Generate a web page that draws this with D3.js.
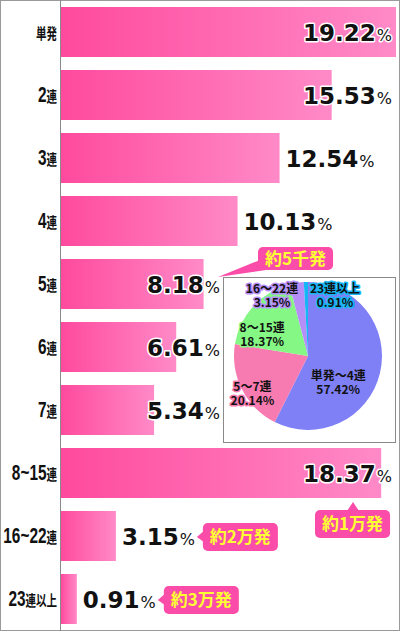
<!DOCTYPE html>
<html>
<head>
<meta charset="utf-8">
<script src="https://cdn.jsdelivr.net/npm/d3@7"></script>
<style>
  body { margin: 0; background: #fff; }
  svg { display: block; }
</style>
</head>
<body>
<div id="chart"></div>
<script>
// bar data
var categories = ["単発", "2連", "3連", "4連", "5連", "6連", "7連", "8~15連", "16~22連", "23連以上"];
var values = [19.22, 15.53, 12.54, 10.13, 8.18, 6.61, 5.34, 18.37, 3.15, 0.91];

// pie data
var pieLabels = ["単発～4連", "5～7連", "8～15連", "16～22連", "23連以上"];
var pieValues = [57.42, 20.14, 18.37, 3.15, 0.91];
var pieColors = ["#7f7ff6", "#f77bb0", "#84f784", "#b68ef8", "#14b6f6"];

// callouts
var calloutRows = ["5連", "8~15連", "16~22連", "23連以上"];
var calloutTexts = ["約5千発", "約1万発", "約2万発", "約3万発"];

var width = 400, height = 631;
var left = 61;
var CJK = "'Noto Sans CJK JP', sans-serif";
var NUM = "'DejaVu Sans', sans-serif";

var svg = d3.select("#chart").append("svg").attr("width", width).attr("height", height);

var defs = svg.append("defs");
var grad = defs.append("linearGradient").attr("id", "barGrad")
	.attr("x1", 0).attr("x2", 1).attr("y1", 0).attr("y2", 0);
grad.append("stop").attr("offset", 0).attr("stop-color", "#ff4a9e");
grad.append("stop").attr("offset", 1).attr("stop-color", "#ff8ac8");

var x = d3.scaleLinear().domain([0, 19.22]).range([left, 396]);
var y = d3.scaleBand().domain(categories).range([7, 624]).paddingInner(13 / 63).paddingOuter(0);

// outer frame + axis line
svg.append("rect").attr("x", 0.5).attr("y", 0.5).attr("width", width - 1).attr("height", height - 1)
	.attr("fill", "none").attr("stroke", "#9a9a9a");
svg.append("line").attr("x1", left - 0.5).attr("x2", left - 0.5).attr("y1", 0).attr("y2", height)
	.attr("stroke", "#8a8a8a");

// bars
svg.append("g").selectAll("rect")
	.data(values)
	.enter().append("rect")
		.attr("x", left)
		.attr("y", function(d, i) { return y(categories[i]); })
		.attr("width", function(d) { return x(d) - left; })
		.attr("height", y.bandwidth())
		.attr("fill", "url(#barGrad)");

// category labels: tall narrow digits, small kanji
var catG = svg.append("g");
categories.forEach(function(c, i) {
	var t = catG.append("text")
		.attr("transform", "translate(57," + (y(c) + y.bandwidth() / 2 + 7) + ") scale(0.7,1)")
		.attr("text-anchor", "end")
		.attr("font-weight", "bold")
		.attr("fill", "#111");
	var parts = c.match(/[0-9~]+|[^0-9~]+/g);
	parts.forEach(function(p) {
		var num = /[0-9~]/.test(p);
		t.append("tspan").text(p)
			.attr("font-family", num ? "'Liberation Sans Narrow', 'Liberation Sans', sans-serif" : CJK)
			.attr("font-size", num ? 22 : 15);
	});
});

var box = { x: 223, y: 277, w: 172, h: 165 };

// value labels
var labelBoxes = {};
var valG = svg.append("g");
values.forEach(function(v, i) {
	var c = categories[i];
	var rowTop = y(c), rowBot = rowTop + y.bandwidth();
	var t = valG.append("text")
		.attr("y", rowTop + y.bandwidth() / 2 + 9)
		.attr("font-family", NUM)
		.attr("font-weight", "bold")
		.attr("fill", "#111")
		.attr("stroke", "#fff")
		.attr("stroke-width", 3)
		.attr("stroke-linejoin", "round")
		.attr("paint-order", "stroke");
	t.append("tspan").text(v.toFixed(2)).attr("font-size", 23);
	t.append("tspan").text("%").attr("font-size", 16).attr("font-weight", "normal").attr("dx", 1);
	var w = t.node().getComputedTextLength();
	var limit = (rowBot > box.y && rowTop < box.y + box.h) ? box.x - 4 : 391;
	var x0 = Math.min(x(v) + 6, limit - w);
	t.attr("x", x0);
	labelBoxes[c] = { x0: x0, x1: x0 + w, top: rowTop, bot: rowBot, mid: rowTop + y.bandwidth() / 2 };
});

// pie inset
svg.append("rect").attr("x", box.x + 0.5).attr("y", box.y + 0.5).attr("width", box.w).attr("height", box.h)
	.attr("fill", "#fff").attr("stroke", "#8a8a8a");

var cx = 308, cy = 356, r = 74;
var pie = d3.pie().sort(null).value(function(d) { return d; });
var arc = d3.arc().innerRadius(0).outerRadius(r);
var pg = svg.append("g").attr("transform", "translate(" + cx + "," + cy + ")");
var arcs = pie(pieValues);
pg.selectAll("path")
	.data(arcs)
	.enter().append("path")
		.attr("d", arc)
		.attr("fill", function(d, i) { return pieColors[i]; });

// pie labels, nudged from centroids; the two thin slices get labels above the pie
var labelArc = d3.arc().innerRadius(r * 0.6).outerRadius(r * 0.6);
var nudge = [[-13, 14], [-16, 15], [-13, 6]];
arcs.forEach(function(a, i) {
	var c = labelArc.centroid(a), px, py;
	if (i < 3) { px = c[0] + nudge[i][0]; py = c[1] + nudge[i][1]; }
	else { px = (i == 3 ? -36 : 27); py = -63; }
	var t = pg.append("text")
		.attr("text-anchor", "middle")
		.attr("font-family", CJK)
		.attr("font-weight", "bold")
		.attr("font-size", 12)
		.attr("fill", "#111")
		.attr("stroke", pieColors[i])
		.attr("stroke-width", 3)
		.attr("stroke-linejoin", "round")
		.attr("paint-order", "stroke");
	t.append("tspan").attr("x", px).attr("y", py).text(pieLabels[i]);
	t.append("tspan").attr("x", px).attr("y", py + 14).text(pieValues[i].toFixed(2) + "%");
});

// callouts
var cg = svg.append("g");
calloutRows.forEach(function(row, i) {
	var b = labelBoxes[row];
	var t = cg.append("text")
		.attr("font-family", CJK)
		.attr("font-weight", "bold")
		.attr("font-size", 17)
		.attr("fill", "#ffff33")
		.attr("text-anchor", "middle")
		.text(calloutTexts[i]);
	var tw = t.node().getComputedTextLength();
	var w = tw + 14, h = i == 0 ? 23 : 28;
	var rx, ry, tail;
	if (i == 0) {
		rx = b.x1 + 39; ry = b.top - 12;
		tail = [[rx + 2, ry + h - 10], [b.x1 - 1, b.mid - 7], [rx + 8, ry + h]];
	} else if (i == 1) {
		rx = b.x1 - 76; ry = b.bot + 12;
		tail = [[b.x1 - 44, ry + 1], [b.x1 - 38, b.bot + 4], [b.x1 - 32, ry + 1]];
	} else {
		rx = b.x1 + 9; ry = b.mid - h / 2 + 1;
		tail = [[rx + 1, b.mid - 5], [b.x1 + 3, b.mid + 1], [rx + 1, b.mid + 6]];
	}
	cg.insert("path", "text").attr("d", d3.line()(tail) + "Z").attr("fill", "#fa4ca8");
	cg.insert("rect", "text").attr("x", rx).attr("y", ry).attr("width", w).attr("height", h)
		.attr("rx", 5).attr("fill", "#fa4ca8");
	t.attr("x", rx + w / 2).attr("y", ry + h / 2 + 6);
});
</script>
</body>
</html>
